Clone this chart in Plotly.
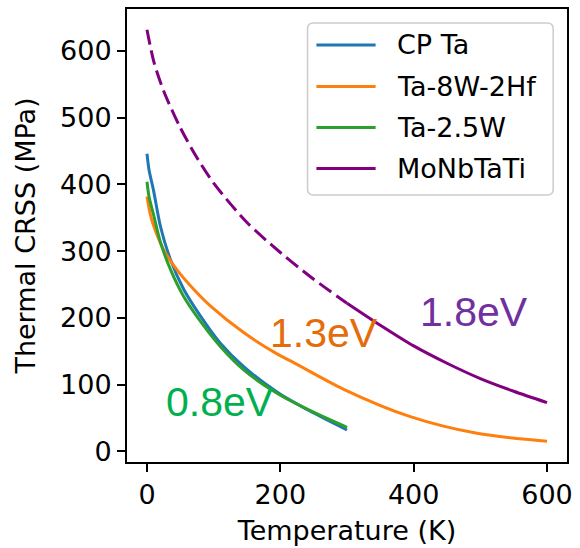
import plotly.graph_objects as go

# Thermal CRSS versus temperature for four alloys
cp_ta_T = [0, 3, 10, 20, 35, 55, 80, 110, 145, 195, 245, 300]
cp_ta_crss = [446, 422, 390, 338, 288, 243, 203, 162, 127, 89, 60, 32]

ta25w_T = [0, 3, 10, 20, 35, 55, 80, 110, 145, 195, 245, 300]
ta25w_crss = [404, 382, 354, 314, 273, 232, 195, 157, 122, 87, 61, 36]

ta8w_T = [0, 5, 10, 25, 45, 70, 95, 145, 195, 220, 295, 395, 495, 600]
ta8w_crss = [382, 355, 338, 302, 272, 243, 218, 178, 146, 133, 93, 52, 27, 15]

# MoNbTaTi: extrapolated branch (dashed) and measured range (solid)
mnbt_extrap_T = [0, 10, 25, 50, 75, 100, 150, 200, 250, 300]
mnbt_extrap_crss = [632, 585, 540, 485, 440, 402, 343, 298, 258, 222]
mnbt_T = [300, 350, 400, 450, 500, 550, 600]
mnbt_crss = [222, 189, 158, 132, 109, 90, 73]

x_ticks = [0, 200, 400, 600]
y_ticks = [0, 100, 200, 300, 400, 500, 600]

series_names = ["CP Ta", "Ta-8W-2Hf", "Ta-2.5W", "MoNbTaTi"]
series_colors = ["#1f77b4", "#ff7f0e", "#2ca02c", "purple"]

# Activation-energy labels: (text, T, CRSS, colour)
energy_labels = [
    ("0.8eV", 109, 74, "rgb(0,176,80)"),
    ("1.3eV", 266, 178, "rgb(228,108,10)"),
    ("1.8eV", 491, 209, "rgb(112,48,160)"),
]

FONT = "DejaVu Sans"
LW = 3
W, H = 580, 548
M = dict(l=127, r=7, t=9, b=86)
PW = W - M["l"] - M["r"]
PH = H - M["t"] - M["b"]


def px_to_domain(px, py):
    """Convert figure pixel position to plot-domain fractions."""
    return (px - M["l"]) / PW, (H - M["b"] - py) / PH


fig = go.Figure()
spline = dict(shape="spline", smoothing=0.8)
fig.add_trace(go.Scatter(x=cp_ta_T, y=cp_ta_crss, mode="lines", name=series_names[0],
                         showlegend=False,
                         line=dict(color=series_colors[0], width=LW, **spline)))
fig.add_trace(go.Scatter(x=ta8w_T, y=ta8w_crss, mode="lines", name=series_names[1],
                         showlegend=False,
                         line=dict(color=series_colors[1], width=LW, **spline)))
fig.add_trace(go.Scatter(x=ta25w_T, y=ta25w_crss, mode="lines", name=series_names[2],
                         showlegend=False,
                         line=dict(color=series_colors[2], width=LW, **spline)))
fig.add_trace(go.Scatter(x=mnbt_extrap_T, y=mnbt_extrap_crss, mode="lines", showlegend=False,
                         name=series_names[3],
                         line=dict(color=series_colors[3], width=LW, dash="15px,6px", **spline)))
fig.add_trace(go.Scatter(x=mnbt_T, y=mnbt_crss, mode="lines", name=series_names[3],
                         showlegend=False,
                         line=dict(color=series_colors[3], width=LW, **spline)))

for text, t, c, col in energy_labels:
    fig.add_annotation(x=t, y=c, xref="x", yref="y", text=text, showarrow=False,
                       xanchor="center", yanchor="middle",
                       font=dict(family="Liberation Sans", size=41, color=col))

# Legend box with rounded corners, drawn in the plot domain
bx0, by0 = px_to_domain(310, 195)
bx1, by1 = px_to_domain(559, 23)
rx, ry = 6 / PW, 6 / PH
box_path = (
    f"M {bx0 + rx},{by0} L {bx1 - rx},{by0} Q {bx1},{by0} {bx1},{by0 + ry} "
    f"L {bx1},{by1 - ry} Q {bx1},{by1} {bx1 - rx},{by1} "
    f"L {bx0 + rx},{by1} Q {bx0},{by1} {bx0},{by1 - ry} "
    f"L {bx0},{by0 + ry} Q {bx0},{by0} {bx0 + rx},{by0} Z"
)
fig.add_shape(type="path", path=box_path, xref="x domain", yref="y domain",
              line=dict(color="#cccccc", width=1.5), fillcolor="rgba(255,255,255,0.8)",
              layer="above")

row_y = [45, 86.5, 127.5, 168.5]
for name, col, ypx in zip(series_names, series_colors, row_y):
    lx0, ly = px_to_domain(319, ypx)
    lx1, _ = px_to_domain(379, ypx)
    fig.add_shape(type="line", x0=lx0, x1=lx1, y0=ly, y1=ly,
                  xref="x domain", yref="y domain",
                  line=dict(color=col, width=LW), layer="above")
    tx, _ = px_to_domain(399, ypx)
    fig.add_annotation(x=tx, y=ly, xref="x domain", yref="y domain", text=name,
                       showarrow=False, xanchor="left", yanchor="middle",
                       font=dict(family=FONT, size=27, color="black"))

axis_common = dict(
    showgrid=False, zeroline=False, showline=True, linecolor="black", linewidth=2,
    mirror=True, ticks="outside", ticklen=8, tickwidth=2, tickcolor="black",
    tickfont=dict(family=FONT, size=27, color="black"),
)

fig.update_layout(
    width=W, height=H,
    margin=M,
    paper_bgcolor="white", plot_bgcolor="white",
    font=dict(family=FONT, size=27, color="black"),
    showlegend=False,
    xaxis=dict(range=[-30, 630], tickvals=x_ticks,
               title=dict(text="Temperature (K)", font=dict(family=FONT, size=27), standoff=12),
               **axis_common),
    yaxis=dict(range=[-16, 663], tickvals=y_ticks,
               title=dict(text="Thermal CRSS (MPa)", font=dict(family=FONT, size=27), standoff=17),
               **axis_common),
)

fig.write_html("out.html")
